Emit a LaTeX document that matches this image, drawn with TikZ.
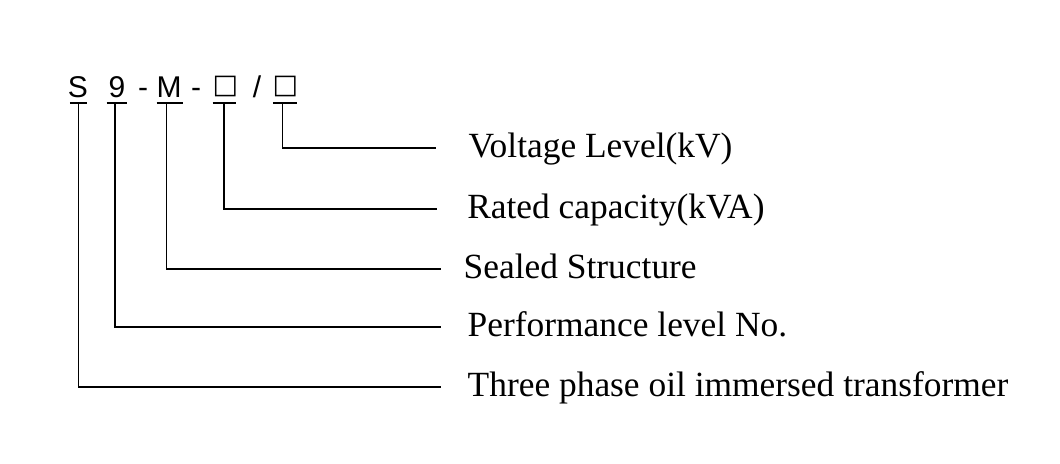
\documentclass[tikz,border=0pt]{standalone}
\usepackage{fontspec}
\setmainfont{Liberation Serif}
\newfontfamily\codefont{Liberation Sans}
\newfontfamily\boxfont{DejaVu Sans}
\usetikzlibrary{calc}

\begin{document}
\begin{tikzpicture}[x=0.5pt, y=-0.5pt, line width=0.7pt,
  code/.style={anchor=base, inner sep=0pt, font=\codefont\fontsize{15}{18}\selectfont},
  codebox/.style={code, font=\boxfont\fontsize{13.5}{16}\selectfont},
  label/.style={anchor=west, inner xsep=13pt, inner ysep=0pt,
    font=\fontsize{17.7}{21}\selectfont, text height=14pt, text depth=4.6pt}]

  \useasboundingbox (0,0) rectangle (1060,463);

  % model code S9-M-[]/[]
  \node[code]    (cS)    at (78,97)    {S};
  \node[code]    (cNine) at (117,97)   {9};
  \node[code]    (dOne)  at (143,97)   {-};
  \node[code]    (cM)    at (169,97)   {M};
  \node[code]    (dTwo)  at (196,97)   {-};
  \node[codebox] (cCap)  at (225.5,93.5) {□};
  \node[code]    (slash) at (257,97)   {/};
  \node[codebox] (cVolt) at (285.5,93.5) {□};

  % meanings
  \node[label, inner xsep=16pt]   (tVolt)  at (436,148) {Voltage Level(kV)};
  \node[label, inner xsep=14.8pt] (tCap)   at (437,209) {Rated capacity(kVA)};
  \node[label, inner xsep=11pt]   (tSeal)  at (441,269) {Sealed Structure};
  \node[label]                    (tPerf)  at (441,327) {Performance level No.};
  \node[label]                    (tThree) at (441,387) {Three phase oil immersed transformer};

  % foot of each code letter
  \coordinate (uS)    at (78.3,103);
  \coordinate (uNine) at (115,103);
  \coordinate (uM)    at (166.7,103);
  \coordinate (uCap)  at (224,103);
  \coordinate (uVolt) at (282.3,103);

  % underlines
  \draw ($(uS)+(-8.5,0)$)    -- ($(uS)+(9,0)$);
  \draw ($(uNine)+(-8.5,0)$) -- ($(uNine)+(11.5,0)$);
  \draw ($(uM)+(-10,0)$)     -- ($(uM)+(16,0)$);
  \draw ($(uCap)+(-11.5,0)$) -- ($(uCap)+(12,0)$);
  \draw ($(uVolt)+(-9.5,0)$) -- ($(uVolt)+(14.5,0)$);

  % leaders
  \draw (uVolt) |- (tVolt.west);
  \draw (uCap)  |- (tCap.west);
  \draw (uM)    |- (tSeal.west);
  \draw (uNine) |- (tPerf.west);
  \draw (uS)    |- (tThree.west);

\end{tikzpicture}
\end{document}
